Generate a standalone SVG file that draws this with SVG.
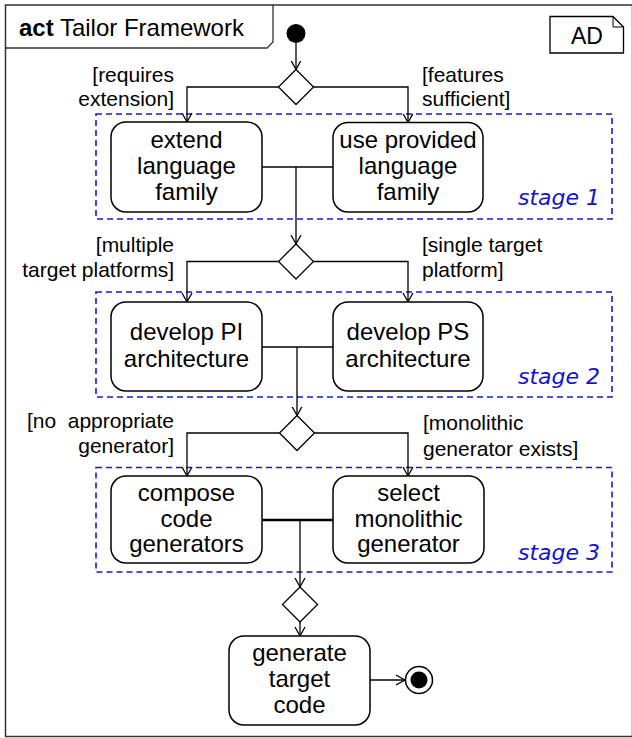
<svg xmlns="http://www.w3.org/2000/svg" width="632" height="738" viewBox="0 0 632 738">
<style>
.t{font-family:"Liberation Sans",Arial,sans-serif;fill:#000}
.n{font-size:24px;text-anchor:middle}
.g{font-size:21px}
.box{fill:#fff;stroke:#000;stroke-width:1.5}
.dia{fill:#fff;stroke:#000;stroke-width:1.3}
.stage{fill:none;stroke:#1a1ad6;stroke-width:1.6;stroke-dasharray:6,4}
.sl{font-family:"Comic Sans MS","DejaVu Sans",sans-serif;font-style:italic;font-size:22px;fill:#1212d0;text-anchor:end}
.c{fill:none;stroke:#000;stroke-width:1.3}
</style>
<defs>
<marker id="arr" markerUnits="userSpaceOnUse" markerWidth="12" markerHeight="12" refX="9" refY="5" orient="auto" viewBox="0 0 12 10">
<path d="M0,0 L9,5 L0,10" fill="none" stroke="#000" stroke-width="1.3"/>
</marker>
</defs>
<rect width="632" height="738" fill="#fff"/>
<g id="frame">
<rect x="5.5" y="5" width="627" height="731.5" fill="none" stroke="#333" stroke-width="1.5"/>
<path d="M5.5,48 H267 L273,42 V5" fill="none" stroke="#333" stroke-width="1.3"/>
<text class="t" x="19" y="36" font-size="24"><tspan font-weight="bold">act</tspan> Tailor Framework</text>
</g>
<g id="ad">
<path d="M550,16.5 H613 L623.5,27 V53 H550 Z" fill="#fff" stroke="#000" stroke-width="1.3"/>
<path d="M613,16.5 V27 H623.5" fill="none" stroke="#000" stroke-width="1"/>
<text class="t" x="587" y="44" font-size="23" text-anchor="middle">AD</text>
</g>
<g id="stages">
<rect class="stage" x="96" y="114" width="516" height="105"/>
<text class="sl" x="600" y="205">stage 1</text>
<rect class="stage" x="96" y="292" width="516" height="105"/>
<text class="sl" x="600" y="384">stage 2</text>
<rect class="stage" x="96" y="467.5" width="516" height="104.5"/>
<text class="sl" x="600" y="560">stage 3</text>
</g>
<g id="connectors">
<path class="c" d="M296,43 V69.5" marker-end="url(#arr)"/>
<path class="c" d="M278.5,87 H187 V122" marker-end="url(#arr)"/>
<path class="c" d="M313.5,87 H408 V122.5" marker-end="url(#arr)"/>
<path class="c" d="M262,167 H333"/>
<path class="c" d="M296,167 V244" marker-end="url(#arr)"/>
<path class="c" d="M278.5,261.5 H187 V302" marker-end="url(#arr)"/>
<path class="c" d="M313.5,261.5 H408 V302" marker-end="url(#arr)"/>
<path class="c" d="M262,347 H333"/>
<path class="c" d="M297,347 V415.5" marker-end="url(#arr)"/>
<path class="c" d="M279.5,433 H187 V476" marker-end="url(#arr)"/>
<path class="c" d="M314.5,433 H408 V476" marker-end="url(#arr)"/>
<path d="M262,520 H333" fill="none" stroke="#000" stroke-width="2.5"/>
<path class="c" d="M300,520 V587" marker-end="url(#arr)"/>
<path class="c" d="M300,622 V636" marker-end="url(#arr)"/>
<path class="c" d="M370,680 H405" marker-end="url(#arr)"/>
</g>
<g id="start"><circle cx="296" cy="33.5" r="9.5" fill="#000"/></g>
<g id="d1"><polygon class="dia" points="296,69.5 313.5,87 296,104.5 278.5,87"/></g>
<g id="guards1">
<text class="t g" x="174" y="82" text-anchor="end">[requires</text>
<text class="t g" x="174" y="106" text-anchor="end">extension]</text>
<text class="t g" x="422" y="82">[features</text>
<text class="t g" x="422" y="106">sufficient]</text>
</g>
<g id="n_extend">
<rect class="box" x="111" y="122" width="151" height="90" rx="15"/>
<text class="t n" x="186.5" y="148">extend</text>
<text class="t n" x="186.5" y="174">language</text>
<text class="t n" x="186.5" y="200">family</text>
</g>
<g id="n_use">
<rect class="box" x="333" y="122.5" width="150" height="89.5" rx="15"/>
<text class="t n" x="408" y="148">use provided</text>
<text class="t n" x="408" y="174">language</text>
<text class="t n" x="408" y="200">family</text>
</g>
<g id="d2"><polygon class="dia" points="296,244 313.5,261.5 296,279 278.5,261.5"/></g>
<g id="guards2">
<text class="t g" x="174" y="252" text-anchor="end">[multiple</text>
<text class="t g" x="174" y="277" text-anchor="end">target platforms]</text>
<text class="t g" x="422" y="252">[single target</text>
<text class="t g" x="422" y="277">platform]</text>
</g>
<g id="n_pi">
<rect class="box" x="111" y="302" width="151" height="89" rx="15"/>
<text class="t n" x="186.5" y="340">develop PI</text>
<text class="t n" x="186.5" y="367">architecture</text>
</g>
<g id="n_ps">
<rect class="box" x="333" y="302" width="150" height="89" rx="15"/>
<text class="t n" x="408" y="340">develop PS</text>
<text class="t n" x="408" y="367">architecture</text>
</g>
<g id="d3"><polygon class="dia" points="297,415.5 314.5,433 297,450.5 279.5,433"/></g>
<g id="guards3">
<text class="t g" x="174" y="428" text-anchor="end" xml:space="preserve">[no  appropriate</text>
<text class="t g" x="174" y="453" text-anchor="end">generator]</text>
<text class="t g" x="423" y="430">[monolithic</text>
<text class="t g" x="423" y="456">generator exists]</text>
</g>
<g id="n_compose">
<rect class="box" x="111" y="476" width="151" height="87" rx="15"/>
<text class="t n" x="186.5" y="501">compose</text>
<text class="t n" x="186.5" y="527">code</text>
<text class="t n" x="186.5" y="552">generators</text>
</g>
<g id="n_select">
<rect class="box" x="333" y="476" width="151" height="87" rx="15"/>
<text class="t n" x="408.5" y="501">select</text>
<text class="t n" x="408.5" y="527">monolithic</text>
<text class="t n" x="408.5" y="552">generator</text>
</g>
<g id="d4"><polygon class="dia" points="300,587 317.5,604.5 300,622 282.5,604.5"/></g>
<g id="n_generate">
<rect class="box" x="229" y="636" width="141" height="89" rx="15"/>
<text class="t n" x="299.5" y="661">generate</text>
<text class="t n" x="299.5" y="687">target</text>
<text class="t n" x="299.5" y="713">code</text>
</g>
<g id="end">
<circle cx="419" cy="680" r="13.5" fill="#fff" stroke="#000" stroke-width="1.5"/>
<circle cx="419" cy="680" r="8.5" fill="#000"/>
</g>
</svg>
